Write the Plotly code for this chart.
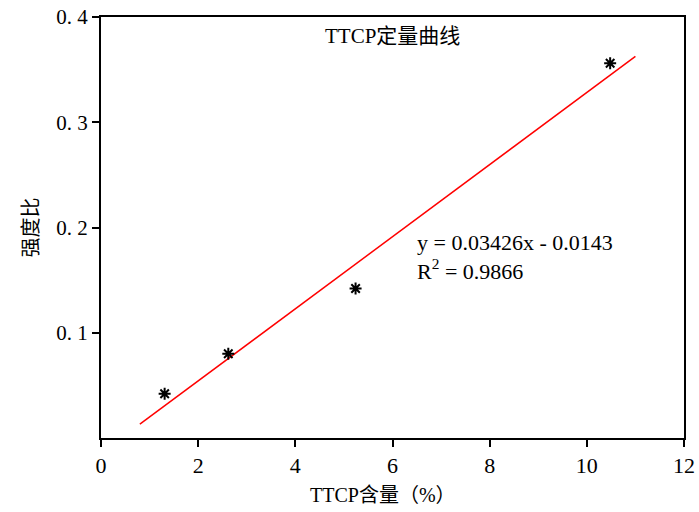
import plotly.graph_objects as go

content = [1.31, 2.62, 5.24, 10.48]
ratio = [0.042, 0.080, 0.142, 0.356]
slope = 0.03426
intercept = -0.0143
fit_x = [0.8, 11.0]
fit_y = [slope * v + intercept for v in fit_x]
x_ticks = [0, 2, 4, 6, 8, 10, 12]
y_ticks = [0.1, 0.2, 0.3, 0.4]
y_ticktext = ["0. 1", "0. 2", "0. 3", "0. 4"]

serif = "Liberation Serif, Noto Sans CJK SC, serif"

fig = go.Figure()
fig.add_trace(go.Scatter(x=fit_x, y=fit_y, mode="lines",
                         line=dict(color="red", width=1.5), showlegend=False))
fig.add_trace(go.Scatter(x=content, y=ratio, mode="markers",
                         marker=dict(symbol="asterisk-open", size=10, color="black",
                                     line=dict(color="black", width=2)),
                         showlegend=False))

fig.update_layout(
    width=699, height=512,
    margin=dict(l=101, r=15, t=17, b=74),
    paper_bgcolor="white", plot_bgcolor="white",
    font=dict(family=serif, size=20, color="black"),
    xaxis=dict(range=[0, 12], tickvals=x_ticks, showline=True, linecolor="black",
               linewidth=2, mirror=True, ticks="outside", ticklen=7, tickwidth=2,
               tickcolor="black", showgrid=False, zeroline=False, automargin=False,
               tickfont=dict(family=serif, size=22)),
    yaxis=dict(range=[0, 0.4], tickvals=y_ticks, ticktext=y_ticktext, showline=True,
               linecolor="black", linewidth=2, mirror=True, ticks="outside",
               ticklen=7, tickwidth=2, tickcolor="black", showgrid=False,
               zeroline=False, automargin=False, tickfont=dict(family=serif, size=21),
               title=dict(text="强度比", font=dict(family="Noto Sans CJK SC", size=20),
                          standoff=12)),
    annotations=[
        dict(text="TTCP定量曲线", x=0.5, y=1.0, xref="paper", yref="paper",
             xanchor="center", yanchor="top", yshift=-5, showarrow=False,
             font=dict(family=serif, size=21)),
        dict(text="y = 0.03426x - 0.0143<br>R<sup>2</sup> = 0.9866", x=6.46, y=0.172,
             xref="x", yref="y", xanchor="left", yanchor="middle", align="left",
             showarrow=False, font=dict(family=serif, size=22)),
        dict(text="TTCP含量（%）", x=0.483, y=0, xref="paper", yref="paper",
             xanchor="center", yanchor="top", yshift=-44, showarrow=False,
             font=dict(family=serif, size=20)),
    ],
)

fig.write_html("out.html")
